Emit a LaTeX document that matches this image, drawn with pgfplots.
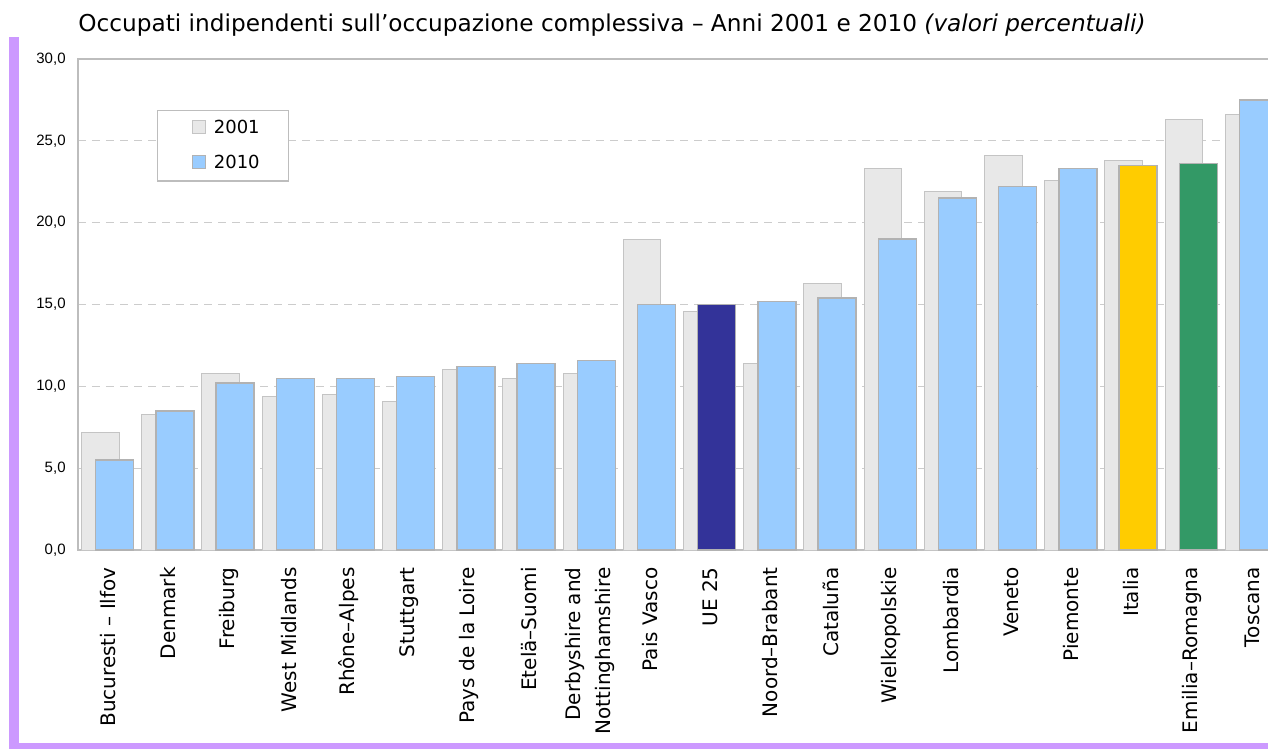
\documentclass[border=0pt]{standalone}
\usepackage{pgfplots}
\pgfplotsset{compat=1.18}
\usepackage{fontspec}
\setmainfont{DejaVu Sans}
\newfontfamily\tickfont{Liberation Sans}
\definecolor{purp}{HTML}{CC99FF}
\definecolor{cA}{HTML}{E8E8E8}
\definecolor{eA}{HTML}{C4C4C4}
\definecolor{cB}{HTML}{99CCFF}
\definecolor{eB}{HTML}{B2B2B2}
\definecolor{cUE}{HTML}{333399}
\definecolor{cIT}{HTML}{FFCC00}
\definecolor{cER}{HTML}{339966}
\definecolor{gridc}{HTML}{CCCCCC}
\definecolor{axc}{HTML}{BDBDBD}
\begin{document}
\begin{tikzpicture}
\useasboundingbox (0pt,0pt) rectangle (634pt,-374.5pt);
\clip (0pt,0pt) rectangle (634pt,-374.5pt);
\fill[purp] (4.5pt,-18.35pt) rectangle (9.65pt,-374.5pt);
\fill[purp] (4.5pt,-371.5pt) rectangle (634pt,-374.5pt);
\node[anchor=base west, inner sep=0pt, font=\fontsize{11.6}{13}\selectfont] at (39pt,-15.75pt)
  {Occupati indipendenti sull’occupazione complessiva – Anni 2001 e 2010 \textit{(valori percentuali)}};
\begin{axis}[
  at={(39pt,-275pt)}, anchor=south west,
  scale only axis, width=602pt, height=245.5pt,
  xmin=-0.5, xmax=19.5, ymin=0, ymax=30,
  xtick={0,...,19},
  xticklabels={Bucuresti – Ilfov, Denmark, Freiburg, West Midlands, Rhône–Alpes, Stuttgart, Pays de la Loire, Etelä–Suomi, {Derbyshire and\\Nottinghamshire}, Pais Vasco, UE 25, Noord–Brabant, Cataluña, Wielkopolskie, Lombardia, Veneto, Piemonte, Italia, Emilia–Romagna, Toscana},
  xticklabel style={rotate=90, anchor=east, align=right, inner sep=0pt, font=\fontsize{10}{15}\selectfont},
  xticklabel shift=8.5pt,
  ytick={0,5,...,30},
  yticklabel style={anchor=east, inner sep=0pt, xshift=-6pt, font=\tickfont\fontsize{7.5}{8.5}\selectfont,
    /pgf/number format/fixed, /pgf/number format/fixed zerofill, /pgf/number format/precision=1,
    /pgf/number format/use comma, /pgf/number format/assume math mode=true},
  major tick length=0pt,
  ymajorgrids, grid style={draw=gridc, line width=0.5pt, dash pattern=on 4pt off 3pt},
  axis line style={draw=axc, line width=0.8pt},
  legend style={at={(0.0656,0.896)}, anchor=north west, draw=axc, fill=white, line width=0.6pt,
    font=\fontsize{9}{10}\selectfont, inner xsep=14.5pt, inner ysep=4.5pt, row sep=9.4pt,
    nodes={inner sep=0pt}},
  legend cell align=left,
  legend image code/.code={\path (-2.5pt,0pt) (10.5pt,0pt); \draw[#1] (0pt,-2.5pt) rectangle (6.5pt,4pt);},
]
\addplot[ybar, bar width=18.75pt, bar shift=-3.9pt, fill=cA, draw=eA, line width=0.5pt] coordinates {
(0,7.2) (1,8.3) (2,10.8) (3,9.4) (4,9.5) (5,9.1) (6,11.0) (7,10.5) (8,10.8) (9,19.0)
(10,14.6) (11,11.4) (12,16.3) (13,23.3) (14,21.9) (15,24.1) (16,22.6) (17,23.8) (18,26.3) (19,26.6)};
\addlegendentry{2001}
\addplot[ybar, bar width=19pt, bar shift=3.3pt, fill=cB, draw=eB, line width=0.65pt] coordinates {
(0,5.5) (1,8.5) (2,10.2) (3,10.5) (4,10.5) (5,10.6) (6,11.2) (7,11.4) (8,11.6) (9,15.0)
(11,15.2) (12,15.4) (13,19.0) (14,21.5) (15,22.2) (16,23.3) (19,27.5)};
\addlegendentry{2010}
\addplot[ybar, bar width=19pt, bar shift=3.3pt, fill=cUE, draw=eB, line width=0.65pt, forget plot] coordinates {(10,15.0)};
\addplot[ybar, bar width=19pt, bar shift=3.3pt, fill=cIT, draw=eB, line width=0.65pt, forget plot] coordinates {(17,23.5)};
\addplot[ybar, bar width=19pt, bar shift=3.3pt, fill=cER, draw=eB, line width=0.65pt, forget plot] coordinates {(18,23.6)};
\end{axis}
\end{tikzpicture}
\end{document}
